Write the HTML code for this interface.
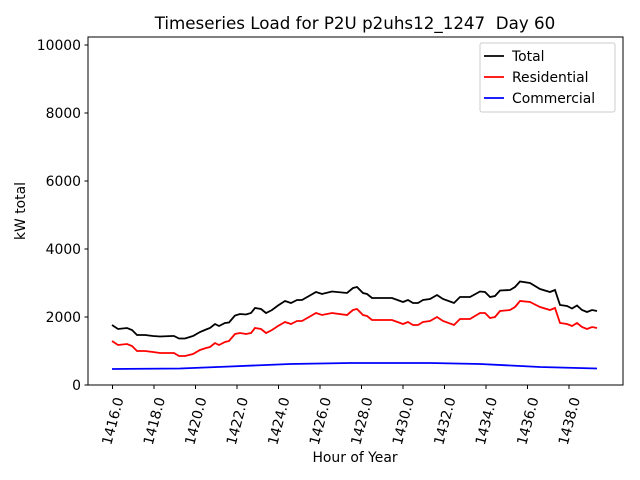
<!DOCTYPE html>
<html><head><meta charset="utf-8"><style>body{margin:0;background:#fff}svg{display:block}text{font-family:"DejaVu Sans","Liberation Sans",sans-serif;fill:#000}</style></head><body>
<svg width="640" height="480" viewBox="0 0 640 480">
<rect width="640" height="480" fill="#fff"/>
<polyline fill="none" stroke="#0000ff" stroke-width="1.8" points="112,369 180,368.5 230,366.5 290,364 350,363 430,363 480,364 540,367 597,368.5"/>
<polyline fill="none" stroke="#ff0000" stroke-width="1.8" points="112,341 118,345 127,344 132,346 137,351 145,351 153,352 160,353 172,353 174,353 179,356 185,356 193,354 200,350 206,348 210,347 215,343 219,345 225,342 229,341 235,334 240,333 246,334 251,333 255,328 261,329 266,333 272,330 278,326 285,322 291,324 297,321 302,321 309,317 316,313 322,315 332,313 347,315 353,310 357,309 363,315 367,316 372,320 392,320 403,324 408,322 413,325 418,325 423,322 430,321 437,317 443,321 454,325 460,319 470,319 480,313 485,313 490,318 495,317 500,311 510,310 515,307 520,301 530,302 540,307 550,310 555,308 560,323 567,324 572,326 577,323 582,327 587,329 592,327 597,328"/>
<polyline fill="none" stroke="#000" stroke-width="1.8" points="112,325 118,329 127,328 132,330 137,335 145,335 153,336 160,336.5 172,336 174,336 179,338.5 185,338.5 193,336 200,332 206,329.5 210,328 215,324 219,326 225,323 229,322.5 235,315.5 240,314 246,314.5 251,313 255,308 261,309 266,313 272,310 278,305.5 285,301 291,303 297,300 302,300 309,296 316,292 322,294 332,291.5 347,293 353,288 357,287 363,293 367,294 372,298 392,298 403,302 408,300 413,303 418,303 423,300 430,299 437,295 443,299 454,303 460,297 470,297 480,291.5 485,292 490,297 495,296 500,290.5 510,290 515,287 520,281.5 530,283 540,289 550,292 555,290 560,305 567,306 572,308.5 577,305.5 582,310 587,312 592,310 597,311"/>
<rect x="88" y="37" width="535" height="348" fill="none" stroke="#000" stroke-width="1"/>
<g stroke="#000">
<line x1="84.5" x2="88" y1="385" y2="385"/><line x1="84.5" x2="88" y1="317" y2="317"/><line x1="84.5" x2="88" y1="249" y2="249"/><line x1="84.5" x2="88" y1="181" y2="181"/><line x1="84.5" x2="88" y1="113" y2="113"/><line x1="84.5" x2="88" y1="45" y2="45"/>
</g>
<g font-size="13.9" text-anchor="end">
<text x="81" y="390">0</text><text x="81" y="322">2000</text><text x="81" y="254">4000</text><text x="81" y="186">6000</text><text x="81" y="118">8000</text><text x="81" y="50">10000</text>
</g>
<g stroke="#000">
<line x1="112.5" x2="112.5" y1="385" y2="389"/><line x1="154" x2="154" y1="385" y2="389"/><line x1="195.5" x2="195.5" y1="385" y2="389"/><line x1="237" x2="237" y1="385" y2="389"/><line x1="278.5" x2="278.5" y1="385" y2="389"/><line x1="320" x2="320" y1="385" y2="389"/><line x1="361.5" x2="361.5" y1="385" y2="389"/><line x1="403" x2="403" y1="385" y2="389"/><line x1="444.5" x2="444.5" y1="385" y2="389"/><line x1="486" x2="486" y1="385" y2="389"/><line x1="527.5" x2="527.5" y1="385" y2="389"/><line x1="569" x2="569" y1="385" y2="389"/>
</g>
<g font-size="13.9" text-anchor="middle">
<text x="112.5" y="426" transform="rotate(-75 112.5 421)">1416.0</text>
<text x="154" y="426" transform="rotate(-75 154 421)">1418.0</text>
<text x="195.5" y="426" transform="rotate(-75 195.5 421)">1420.0</text>
<text x="237" y="426" transform="rotate(-75 237 421)">1422.0</text>
<text x="278.5" y="426" transform="rotate(-75 278.5 421)">1424.0</text>
<text x="320" y="426" transform="rotate(-75 320 421)">1426.0</text>
<text x="361.5" y="426" transform="rotate(-75 361.5 421)">1428.0</text>
<text x="403" y="426" transform="rotate(-75 403 421)">1430.0</text>
<text x="444.5" y="426" transform="rotate(-75 444.5 421)">1432.0</text>
<text x="486" y="426" transform="rotate(-75 486 421)">1434.0</text>
<text x="527.5" y="426" transform="rotate(-75 527.5 421)">1436.0</text>
<text x="569" y="426" transform="rotate(-75 569 421)">1438.0</text>
</g>
<text x="355" y="462" font-size="13.9" text-anchor="middle">Hour of Year</text>
<text x="25" y="211" font-size="13.9" text-anchor="middle" transform="rotate(-90 25 211)">kW total</text>
<text x="355" y="29" font-size="16.7" text-anchor="middle">Timeseries Load for P2U p2uhs12_1247&#160; Day 60</text>
<rect x="480" y="43" width="135" height="69" rx="2" fill="#fff" fill-opacity="0.8" stroke="#ccc"/>
<line x1="484" x2="504" y1="56" y2="56" stroke="#000" stroke-width="1.8"/>
<line x1="484" x2="504" y1="77" y2="77" stroke="#ff0000" stroke-width="1.8"/>
<line x1="484" x2="504" y1="98" y2="98" stroke="#0000ff" stroke-width="1.8"/>
<g font-size="13.9"><text x="512" y="61">Total</text><text x="512" y="82">Residential</text><text x="512" y="103">Commercial</text></g>
</svg>
</body></html>
